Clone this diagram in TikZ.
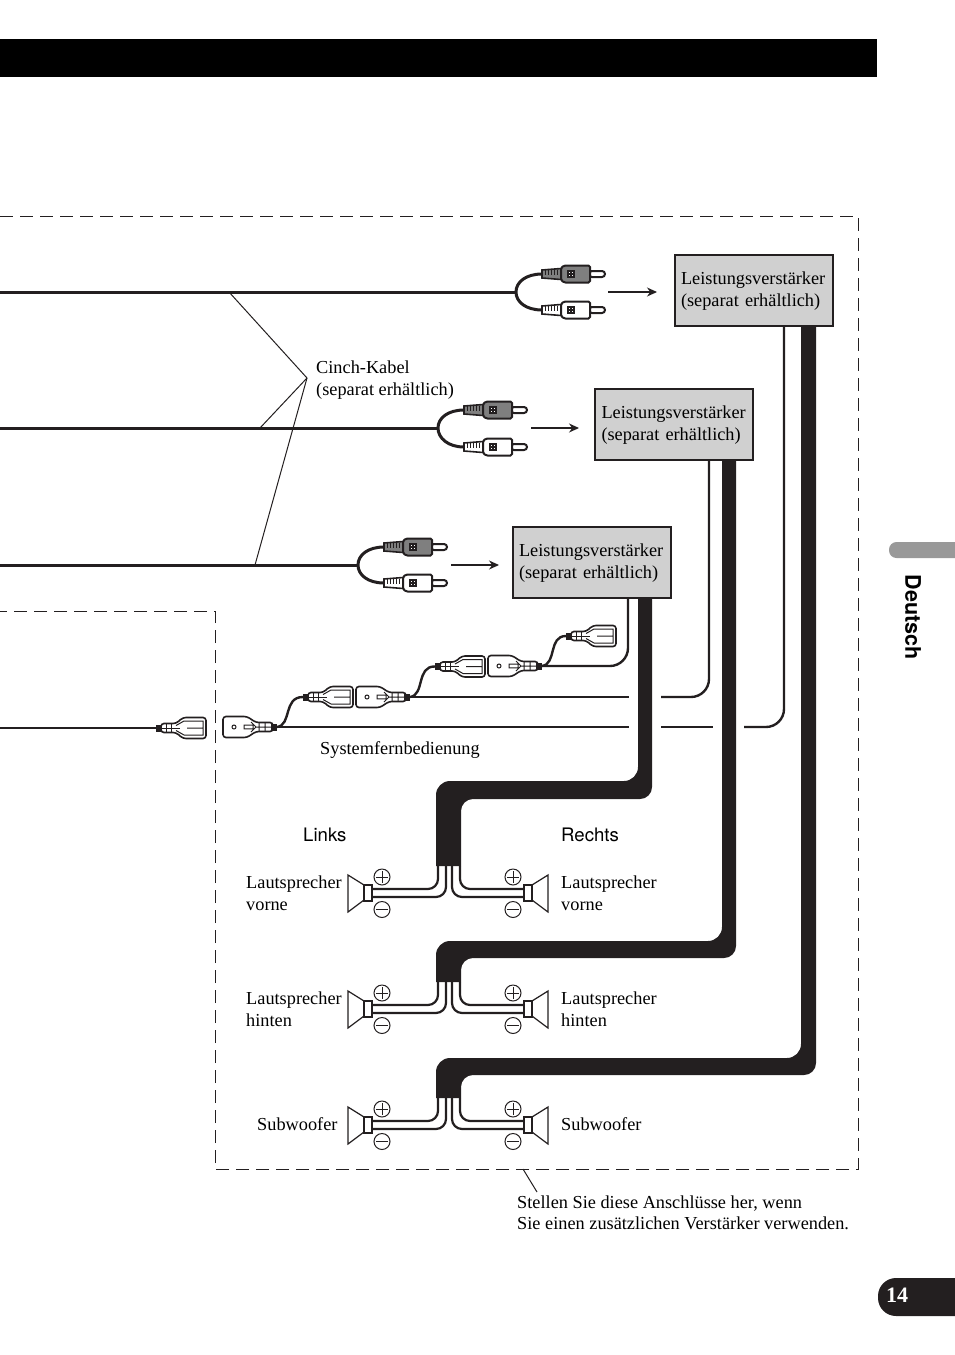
\documentclass[tikz,border=0pt]{standalone}
\usepackage{fontspec}
\setmainfont{Liberation Serif}
\setsansfont{TeX Gyre Heros}
\usetikzlibrary{arrows.meta}
\definecolor{bandblack}{HTML}{231F20}
\definecolor{ampgray}{HTML}{D0D0D0}
\definecolor{tabgray}{HTML}{999999}
\definecolor{plugdark}{HTML}{7F7F7F}
\newcommand{\amptext}{\rule{0pt}{15pt}Leistungsverstärker\\(separat erhältlich)}
\tikzset{
  lab/.style={font=\fontsize{18.3}{21.5}\selectfont,align=left,inner sep=0pt,anchor=west},
  sanslab/.style={font=\sffamily\fontsize{18.6}{21}\selectfont,inner sep=0pt,anchor=west},
  ampbox/.style={draw=bandblack,line width=2pt,fill=ampgray,minimum width=158pt,minimum height=71pt,inner sep=0pt,
    text width=145pt,align=left,font=\fontsize{18.3}{21.5}\selectfont},
  cable/.style={draw=bandblack,line width=3pt},
  ctrl/.style={draw=bandblack,line width=2.4pt},
  leader/.style={draw=bandblack,line width=1pt},
  flow/.style={draw=bandblack,line width=1.2pt,-{Stealth[length=10pt,width=9pt]}},
  frame/.style={draw=bandblack,line width=1pt,dash pattern=on 13pt off 7pt},
  speakerwire/.style={draw=bandblack,line width=2.2pt,rounded corners=10pt},
  sign/.style={circle,draw=bandblack,line width=1pt,minimum size=16pt,inner sep=0pt},
  pics/rcaplug/.style={code={
    \draw[bandblack,line width=1.6pt,fill=#1] (0,-4) -- (19,-5.5) -- (19,5.5) -- (0,4) -- cycle;
    \foreach \xx in {3,6,...,18} {\draw[bandblack,line width=1pt] (\xx,-4.5) -- (\xx,1);}
    \draw[bandblack,line width=2pt,fill=white,rounded corners=3pt] (47,-3) -- (63,-3) -- (63,3) -- (47,3) -- cycle;
    \draw[bandblack,line width=2pt,fill=#1,rounded corners=1.5pt] (19,-6) -- (22,-8.5) -- (48,-8.5) -- (48,8.5) -- (22,8.5) -- (19,6) -- cycle;
    \fill[bandblack] (25,-4) rectangle (33,4);
    \foreach \xx in {27,30} {\foreach \yy in {-2,1} {\fill[white] (\xx,\yy) rectangle +(1.3,1.3);}}
  }},
  pics/femaleplug/.style={code={
    \draw[bandblack,line width=1.6pt,fill=white,rounded corners=3pt] (5,-4.5) -- (20,-4.5) -- (27,-10.5) -- (50,-10.5) -- (50,10.5) -- (27,10.5) -- (20,4.5) -- (5,4.5) -- cycle;
    \fill[bandblack] (0,-3.5) rectangle (6,3.5);
    \draw[bandblack,line width=1pt] (10,-4) -- (10,4) (15,-4) -- (15,4) (6,0) -- (24,0);
    \draw[bandblack,line width=1pt] (28,-7) -- (47,-7) -- (47,7) -- (28,7) (20,-2.5) -- (28,-7) (20,2.5) -- (28,7) (31,0) -- (47,0);
  }},
  pics/maleplug/.style={code={
    \draw[bandblack,line width=1.6pt,fill=white,rounded corners=3pt] (0,-10.5) -- (24,-10.5) -- (33,-4.5) -- (50,-4.5) -- (50,4.5) -- (33,4.5) -- (24,10.5) -- (0,10.5) -- cycle;
    \fill[bandblack] (48,-3.5) rectangle (54,3.5);
    \draw[bandblack,line width=1pt] (11,0) circle (2pt) (21,-1.8) rectangle (30,1.8) (28,-5) -- (33,0) -- (28,5) (36,-4) -- (36,4) (42,-4) -- (42,4) (33,0) -- (48,0);
  }},
}

\begin{document}
\begin{tikzpicture}[x=1pt,y=-1pt]
   \useasboundingbox (0,0) rectangle (954,1355);
   % header and side tabs
   \fill[black] (0,39) rectangle (877,77);
   \fill[tabgray,rounded corners=7.5pt] (889,542) -- (889,558) -- (975,558) -- (975,542) -- cycle;
   \fill[bandblack,rounded corners=18pt] (878,1278) -- (878,1316) -- (1000,1316) -- (1000,1278) -- cycle;
   \node[rotate=-90,inner sep=0pt,font=\sffamily\bfseries\fontsize{21.5}{23}\selectfont] (tabtext) at (913,617) {Deutsch};
   \node[text=white,inner sep=0pt,font=\bfseries\fontsize{22}{24}\selectfont] (pagenum) at (897,1295) {14};

   % dashed frame
   \draw[frame] (0,216) -- (858,216) -- (858,1169) -- (215,1169) -- (215,611) -- (0,611);

   % amplifiers
   \node[ampbox] (amp1) at (753.5,290) {\amptext};
   \node[ampbox] (amp2) at (674,424) {\amptext};
   \node[ampbox] (amp3) at (591.5,562) {\amptext};

   % rca cables
   \coordinate (c1) at (0,292);   \coordinate (y1) at (516,292);
   \coordinate (c2) at (0,428);   \coordinate (y2) at (438,428);
   \coordinate (c3) at (0,565);   \coordinate (y3) at (358,565);
   \coordinate (p1a) at (542,274); \coordinate (p1b) at (542,310);
   \coordinate (p2a) at (464,410); \coordinate (p2b) at (464,447);
   \coordinate (p3a) at (384,547); \coordinate (p3b) at (384,583);
   \draw[cable] (c1) -- (y1);
   \draw[cable] (c2) -- (y2);
   \draw[cable] (c3) -- (y3);
   \draw[cable] (p1a) .. controls (526,274) and (516,282) .. (y1) .. controls (516,302) and (526,310) .. (p1b);
   \draw[cable] (p2a) .. controls (448,410) and (438,418) .. (y2) .. controls (438,438) and (448,447) .. (p2b);
   \draw[cable] (p3a) .. controls (368,547) and (358,555) .. (y3) .. controls (358,575) and (368,583) .. (p3b);
   \pic at (p1a) {rcaplug=plugdark};
   \pic at (p1b) {rcaplug=white};
   \pic at (p2a) {rcaplug=plugdark};
   \pic at (p2b) {rcaplug=white};
   \pic at (p3a) {rcaplug=plugdark};
   \pic at (p3b) {rcaplug=white};

   % arrows to the amplifiers
   \coordinate (a1) at (608,292); \coordinate (b1) at (657,292);
   \coordinate (a2) at (531,428); \coordinate (b2) at (579,428);
   \coordinate (a3) at (451,565); \coordinate (b3) at (499,565);
   \draw[flow] (a1) -- (b1);
   \draw[flow] (a2) -- (b2);
   \draw[flow] (a3) -- (b3);

   % cinch label
   \node[lab] (cinch) at (316,380) {Cinch-Kabel\\(separat erhältlich)};
   \coordinate (ld) at (307,378);
   \coordinate (l1) at (229,292); \coordinate (l2) at (260,428); \coordinate (l3) at (255,565);
   \draw[leader] (l1) -- (ld) -- (l2);
   \draw[leader] (ld) -- (l3);

   % system remote chain
   \coordinate (f1) at (156,728); \coordinate (m1) at (223,727);
   \coordinate (f2) at (303,697); \coordinate (m2) at (356,697);
   \coordinate (f3) at (435,666.5); \coordinate (m3) at (488,666);
   \coordinate (f4) at (566,636);
   \coordinate (w0) at (0,728);
   \coordinate (m1e) at (277,727); \coordinate (m2e) at (410,697); \coordinate (m3e) at (542,666);
   \draw[ctrl] (w0) -- (f1);
   \draw[ctrl] (m1e) .. controls (292,725) and (283,697) .. (f2);
   \draw[ctrl] (m2e) .. controls (425,695) and (416,666) .. (f3);
   \draw[ctrl] (m3e) .. controls (557,664) and (548,636) .. (f4);
   \draw[ctrl] (m1e) -- (629,727);
   \draw[ctrl] (661,727) -- (713,727);
   \draw[ctrl,rounded corners=18pt] (744,727) -- (784,727) -- (784,326);
   \draw[ctrl] (m2e) -- (629,697);
   \draw[ctrl,rounded corners=18pt] (661,697) -- (709,697) -- (709,460);
   \draw[ctrl,rounded corners=18pt] (m3e) -- (628,666) -- (628,598);
   \pic at (f1) {femaleplug};
   \pic at (m1) {maleplug};
   \pic at (f2) {femaleplug};
   \pic at (m2) {maleplug};
   \pic at (f3) {femaleplug};
   \pic at (m3) {maleplug};
   \pic at (f4) {femaleplug};
   \node[lab] (remote) at (320,750) {Systemfernbedienung};

   % speaker bands
   \fill[bandblack] (638,598) [rounded corners=14pt] -- (638,781) -- (436,781) [sharp corners] -- (436,866) -- (461,866) [rounded corners=12pt] -- (461,799) -- (652,799) [sharp corners] -- (652,598) -- cycle;
   \fill[bandblack] (722,460) [rounded corners=14pt] -- (722,941) -- (436,941) [sharp corners] -- (436,982) -- (461,982) [rounded corners=12pt] -- (461,958) -- (736,958) [sharp corners] -- (736,460) -- cycle;
   \fill[bandblack] (801,326) [rounded corners=14pt] -- (801,1058) -- (436,1058) [sharp corners] -- (436,1098) -- (461,1098) [rounded corners=12pt] -- (461,1075) -- (816,1075) [sharp corners] -- (816,326) -- cycle;

   % speakers
   \foreach \yy/\nn in {866/a,982/b,1098/c} {
     \draw[speakerwire] (438,\yy) -- (438,\yy+23) -- (372,\yy+23);
     \draw[speakerwire] (446,\yy) -- (446,\yy+31) -- (372,\yy+31);
     \draw[speakerwire] (460,\yy) -- (460,\yy+23) -- (524,\yy+23);
     \draw[speakerwire] (452,\yy) -- (452,\yy+31) -- (524,\yy+31);
     \draw[bandblack,line width=1.2pt,fill=white] (364,\yy+19) -- (348,\yy+9) -- (348,\yy+46) -- (364,\yy+34) -- cycle;
     \draw[bandblack,line width=1.2pt,fill=white] (364,\yy+19) rectangle (372,\yy+35);
     \draw[bandblack,line width=1.2pt,fill=white] (532,\yy+19) -- (548,\yy+9) -- (548,\yy+46) -- (532,\yy+34) -- cycle;
     \draw[bandblack,line width=1.2pt,fill=white] (524,\yy+19) rectangle (532,\yy+35);
     \node[sign] (lp\nn) at (382,\yy+11) {};
     \node[sign] (lm\nn) at (382,\yy+43.5) {};
     \node[sign] (rp\nn) at (513,\yy+11) {};
     \node[sign] (rm\nn) at (513,\yy+43.5) {};
     \draw[bandblack,line width=1pt] (376,\yy+11) -- (388,\yy+11) (382,\yy+5) -- (382,\yy+17) (376,\yy+43.5) -- (388,\yy+43.5);
     \draw[bandblack,line width=1pt] (507,\yy+11) -- (519,\yy+11) (513,\yy+5) -- (513,\yy+17) (507,\yy+43.5) -- (519,\yy+43.5);
   }

   % speaker labels
   \node[sanslab] (links) at (303,835) {Links};
   \node[sanslab] (rechts) at (561,835) {Rechts};
   \node[lab] (lfront) at (246,893) {Lautsprecher\\vorne};
   \node[lab] (rfront) at (561,893) {Lautsprecher\\vorne};
   \node[lab] (lrear) at (246,1009) {Lautsprecher\\hinten};
   \node[lab] (rrear) at (561,1009) {Lautsprecher\\hinten};
   \node[lab] (lsub) at (257,1124) {Subwoofer};
   \node[lab] (rsub) at (561,1124) {Subwoofer};

   % footnote
   \node[lab] (note) at (517,1213) {Stellen Sie diese Anschlüsse her, wenn\\Sie einen zusätzlichen Verstärker verwenden.};
   \coordinate (n1) at (523,1169); \coordinate (n2) at (537,1192);
   \draw[leader] (n1) -- (n2);
\end{tikzpicture}
\end{document}
